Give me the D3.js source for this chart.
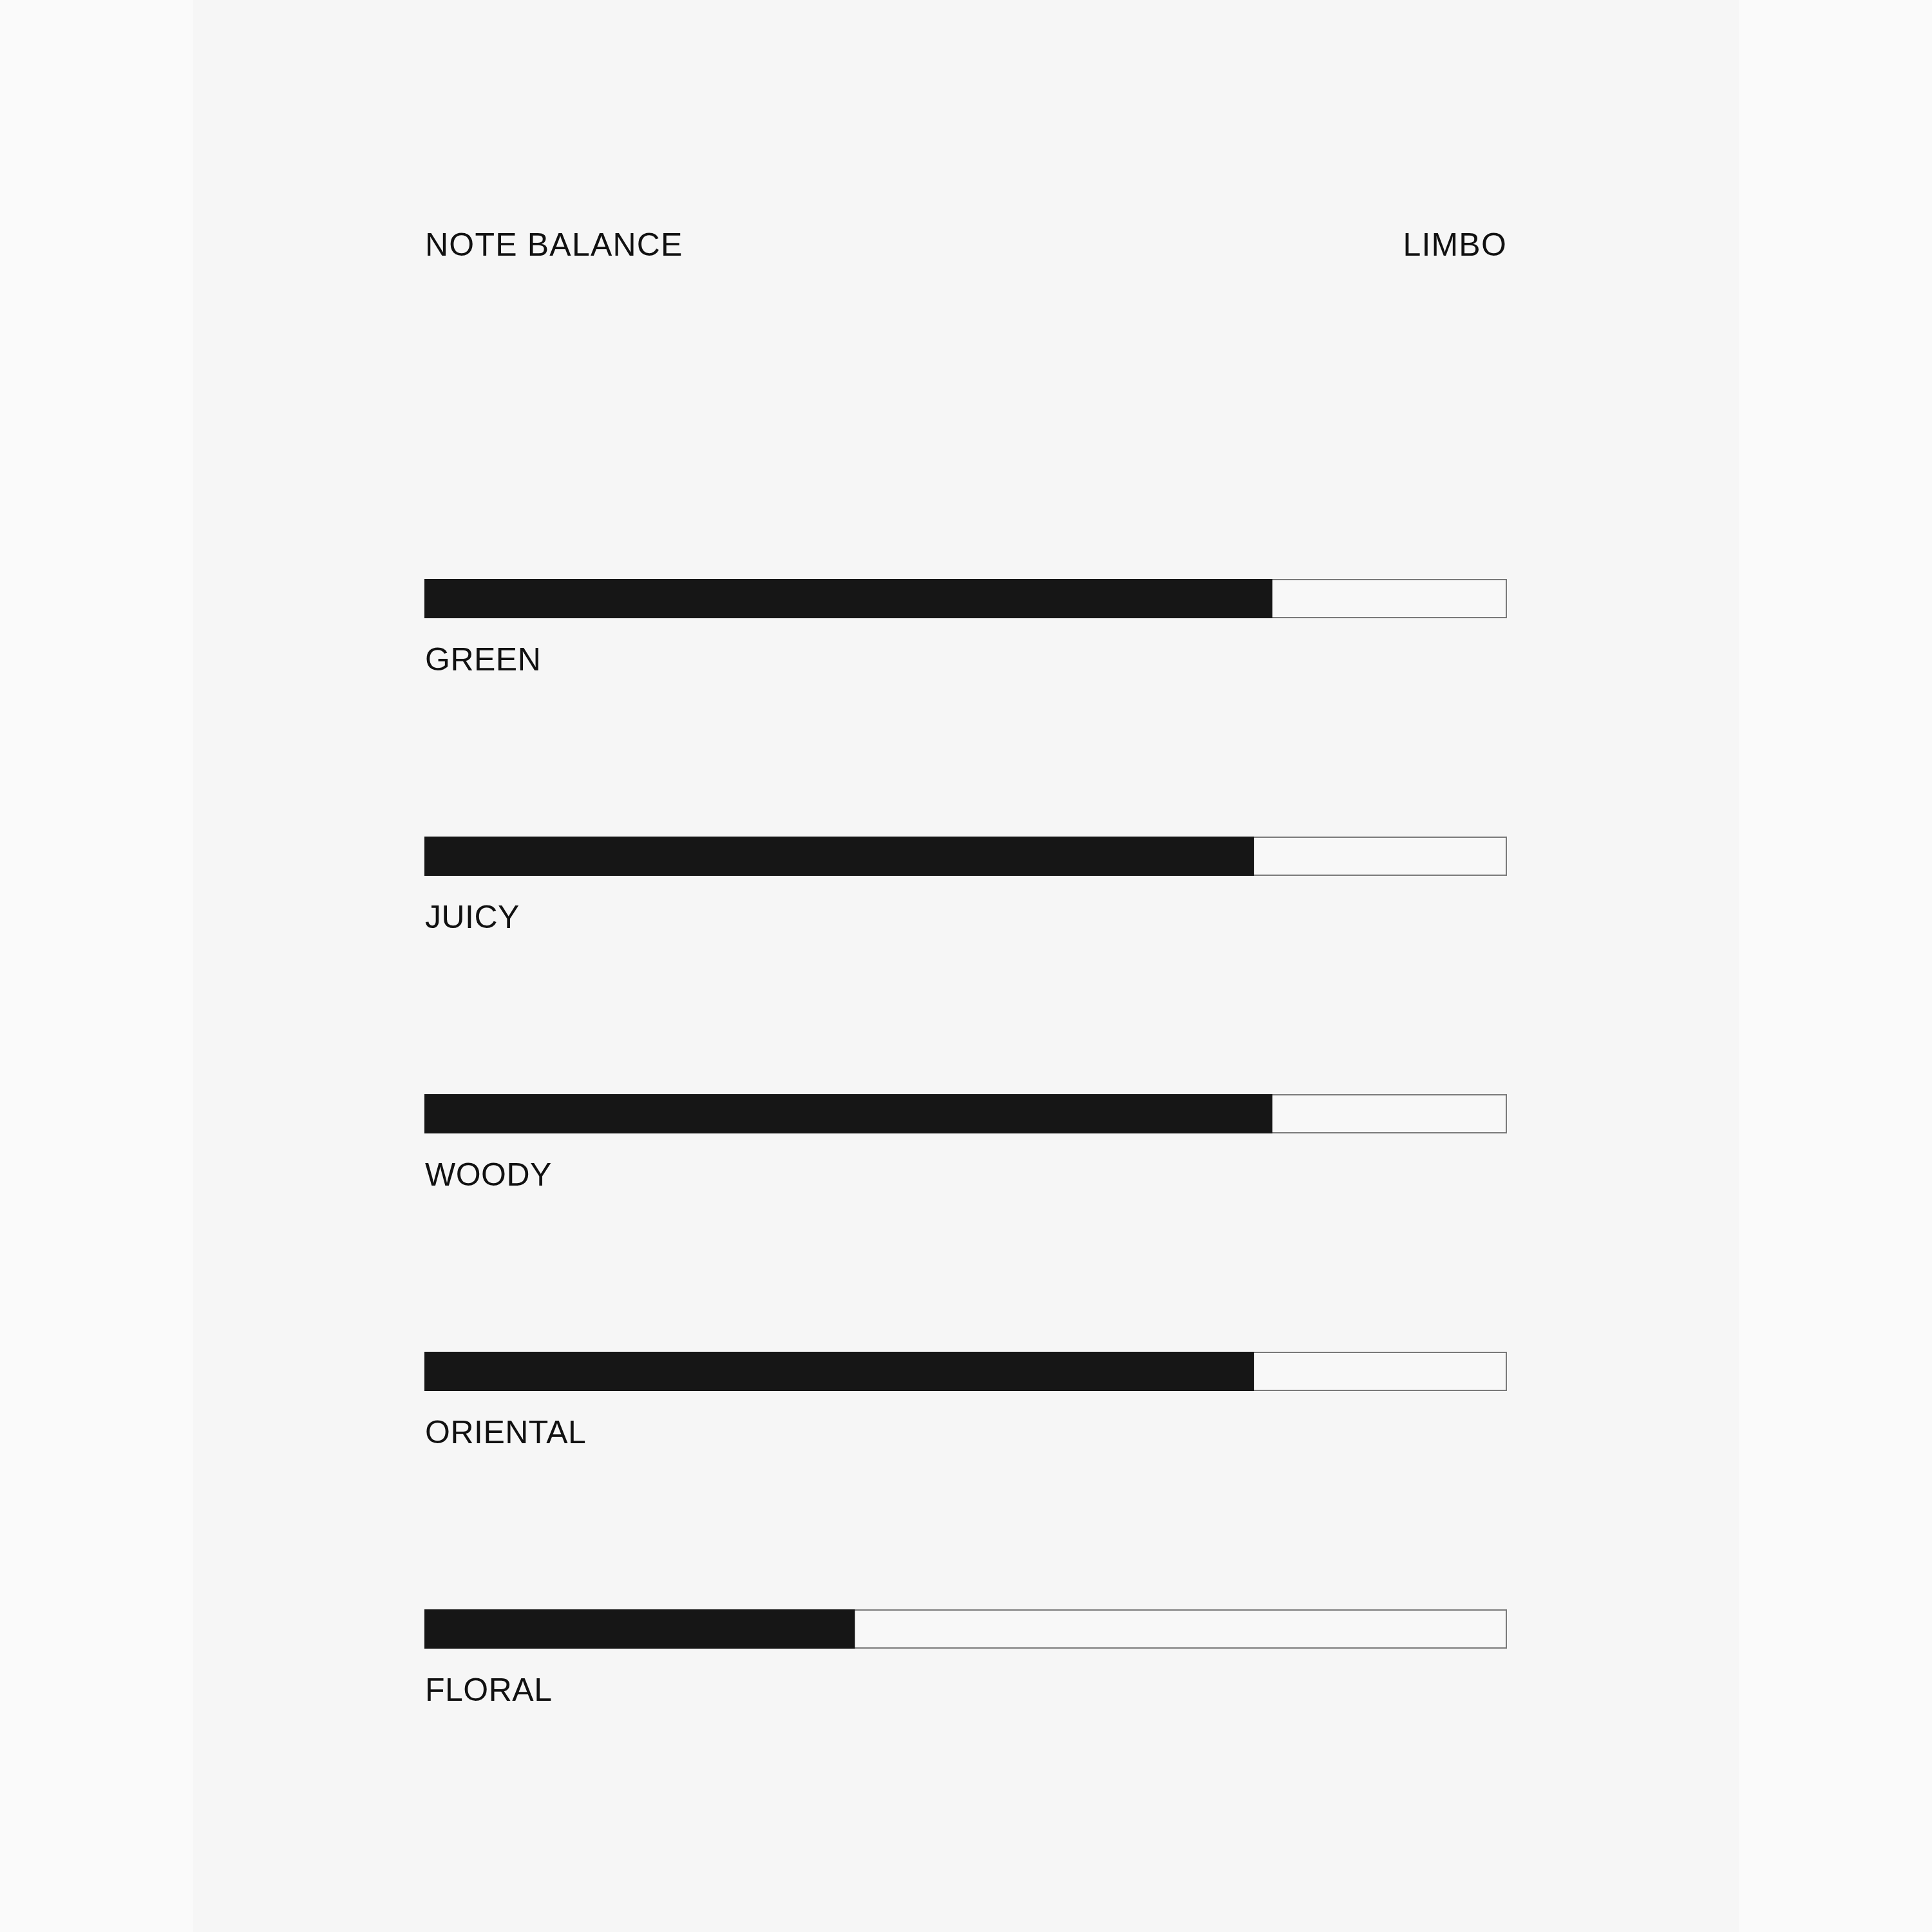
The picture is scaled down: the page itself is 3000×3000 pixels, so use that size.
<!DOCTYPE html>
<html>
<head>
<meta charset="utf-8">
<script src="https://cdn.jsdelivr.net/npm/d3@7"></script>
<style>
  html, body { margin: 0; padding: 0; background: #fafafa; }
  svg { display: block; }
  .label { font-family: 'Liberation Sans', Arial, sans-serif; font-size: 50px; fill: #111; letter-spacing: 1.2px; }
  .note { letter-spacing: 0.5px; }
</style>
</head>
<body>
<svg id="chart"></svg>
<script>
'use strict';

// note balance values (0 - 100)
let notes = ['GREEN', 'JUICY', 'WOODY', 'ORIENTAL', 'FLORAL']
let values = [78.3, 76.6, 78.3, 76.6, 39.7]
let title = 'NOTE BALANCE'
let product = 'LIMBO'

var width = 3000,
  height = 3000,
  margin = {
    left: 660,
    right: 661,
    top: 900
  },
  rowStep = 400,
  barHeight = 59,
  drawWidth = width - margin.left - margin.right

let svg = d3.select('#chart')
  .attr('width', width)
  .attr('height', height)

// the paper panel
svg.append('rect')
  .attr('x', 300)
  .attr('y', 0)
  .attr('width', 2400)
  .attr('height', height)
  .attr('fill', '#f6f6f6')

let xScale = d3.scaleLinear()
  .domain([0, 100])
  .range([0, drawWidth])

let yScale = d3.scaleBand()
  .domain(notes)
  .range([0, rowStep * notes.length])
  .paddingInner(0)

svg.append('text')
  .attr('class', 'label')
  .attr('x', margin.left)
  .attr('y', 397)
  .text(title)

svg.append('text')
  .attr('class', 'label')
  .attr('x', margin.left + drawWidth + 1)
  .attr('y', 397)
  .attr('text-anchor', 'end')
  .text(product)

let g = svg.append('g')
  .attr('transform', 'translate(' + margin.left + ',' + margin.top + ')')

let rows = g.selectAll('.row')
  .data(notes)
  .enter().append('g')
  .attr('class', 'row')
  .attr('transform', function(d) {
    return 'translate(0,' + yScale(d) + ')'
  })

// empty track
rows.append('rect')
  .attr('x', 0)
  .attr('y', 0)
  .attr('width', xScale(100))
  .attr('height', barHeight)
  .attr('fill', '#f8f8f8')
  .attr('stroke', '#7a7a7a')
  .attr('stroke-width', 2)

// filled part
rows.append('rect')
  .attr('x', 0)
  .attr('y', 0)
  .attr('width', function(d, i) {
    return xScale(values[i])
  })
  .attr('height', barHeight)
  .attr('fill', '#161616')
  .attr('stroke', '#161616')
  .attr('stroke-width', 2)

rows.append('text')
  .attr('class', 'label note')
  .attr('x', 0)
  .attr('y', 141)
  .text(function(d) {
    return d
  })
</script>
</body>
</html>
